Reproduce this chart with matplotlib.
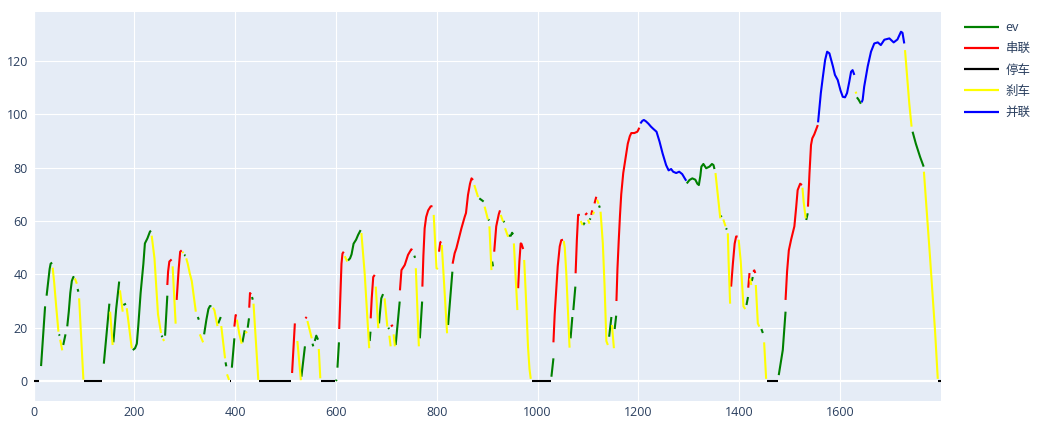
import numpy as np
import matplotlib
matplotlib.use("Agg")
import matplotlib.pyplot as plt

plt.rcParams['font.family'] = ['Open Sans', 'Noto Sans CJK SC', 'DejaVu Sans']

# Drive-cycle speed (km/h) over time (s), split into runs by powertrain mode.
modes = ["ev", "串联", "停车", "刹车", "并联"]
mode_colors = ["green", "red", "black", "yellow", "blue"]

ev_time = [
    [15, 23], [26, 30, 32, 34, 37], [50.5, 52], [59, 63.5],
    [67, 70, 73, 76, 79, 81], [87.5, 89], [139.5, 150.5], [158.5, 164, 170],
    [178.3, 183.5], [197, 201.5, 205, 208, 212.5, 218, 221, 226, 231, 233],
    [254, 256], [261, 265.5], [299, 301.5], [326, 328],
    [338.5, 343, 347, 350, 353], [366.5, 371.5], [381, 382.5], [393.5, 398.5],
    [414.5, 419], [425, 427.5], [433.5, 435], [531.5, 538.5], [553.5, 555],
    [558, 561, 564.5], [600, 601.5], [603, 606],
    [624, 628, 631, 635, 640, 644, 649], [667, 668.5], [685.5, 690, 693.5],
    [704, 705.5], [718.5, 726.5], [755.5, 757], [766.5, 771], [822.5, 831],
    [884.5, 893], [902.5, 904], [910, 911.5], [932.5, 934],
    [942.5, 947, 949.5, 951.5], [1027.5, 1031.5], [1065.5, 1069], [1071, 1075],
    [1090.5, 1093.5], [1103.5, 1105], [1122, 1123.5], [1142, 1146.5],
    [1153, 1156],
    [1296, 1301.5, 1307, 1313, 1317, 1320, 1323, 1325, 1329, 1334.5, 1341, 1346, 1349, 1351],
    [1363.5, 1365], [1374, 1375.5], [1414.5, 1417.5], [1425, 1427], [1444, 1447],
    [1478.5, 1483, 1486.5, 1489, 1492], [1533, 1536], [1633.5, 1637, 1641.5],
    [1744, 1750.5, 1759, 1766],
]
ev_speed = [
    [5.6, 28], [32, 38.5, 42, 44, 44.4], [17.5, 17], [13.5, 17.5],
    [20.5, 26, 33, 37.5, 39, 39], [34.5, 33.5], [6.5, 29], [14.5, 27, 37.3],
    [28.5, 29], [11.6, 12.3, 14, 21, 33, 44, 51.6, 53.5, 56, 56.4],
    [17, 16.5], [17, 32], [47.3, 47], [24, 23],
    [17.5, 23, 27, 28.1, 28.1], [21.6, 24], [7, 5.5], [5, 16],
    [14.5, 19], [20, 23.5], [31.5, 30.5], [1.6, 13], [14, 13],
    [15, 17, 15.5], [0, 0.5], [5, 14.5],
    [45.2, 46, 47.5, 51.5, 53, 54.8, 56.6], [15, 18.5], [21.6, 31, 32.6],
    [20, 19.5], [13.5, 29.8], [47, 46.2], [16, 29.8], [21, 41],
    [68.5, 67.3], [60.6, 60.2], [44.8, 43], [60, 59.5],
    [54.5, 54.5, 55.6, 55], [1.6, 8.5], [16, 24], [26.6, 35.4],
    [58.5, 59.4], [60.5, 61], [65.8, 65], [16.6, 24],
    [19.5, 24.5],
    [74.1, 75.4, 76, 75.5, 74, 73.5, 77, 80.4, 81.4, 79.8, 80.4, 81.4, 81, 79.5],
    [62, 61.5], [57.3, 56.8], [28.5, 31.5], [37.5, 39], [19.5, 18],
    [2.2, 7.5, 11.6, 18, 26], [60.4, 62.9], [106.4, 105.5, 104],
    [93.5, 89, 84, 80.4],
]

series_time = [
    [265.5, 267, 269.5, 274], [284, 288, 291, 294], [398.5, 401, 403],
    [428, 429.5, 431.5], [513, 518.5], [539.5, 542],
    [606.5, 609, 611, 613, 615.5], [669, 671, 674, 677], [709, 713],
    [727, 730, 736.5, 743, 749.5, 751.5],
    [771.5, 773.5, 776, 779, 783, 788, 791.5], [804.5, 807, 809],
    [831.5, 835.5, 839, 849, 855.5, 858, 862, 866, 869, 872],
    [914, 918, 923, 925.5], [961.5, 964, 966.5, 968, 971.5],
    [1031.5, 1034, 1037, 1040, 1044, 1047, 1050.5], [1075.5, 1078, 1080.5, 1084],
    [1094.5, 1098.5], [1106.5, 1108.5], [1113, 1116.5],
    [1156.5, 1158.5, 1161, 1163.5, 1166, 1170, 1174, 1179, 1183, 1186, 1192, 1198, 1202],
    [1384, 1387.5, 1391, 1394, 1397], [1418, 1420.5], [1428, 1430, 1432],
    [1492, 1495, 1498.5, 1503, 1509.5, 1513, 1516, 1521, 1524.5],
    [1536.5, 1539.5, 1542.5, 1545, 1549, 1556],
]
series_speed = [
    [36, 41, 44.8, 45.6], [30.4, 42, 48.5, 49], [20.4, 24.7, 24.7],
    [27.5, 33, 32.5], [3, 21.6], [23.5, 24],
    [19.5, 33, 44, 47.8, 48.5], [23.5, 31, 39, 39.8], [20.5, 21],
    [34, 41.6, 43.5, 47.3, 49.4, 49.1],
    [35.4, 47, 57.3, 61.5, 64, 65.5, 65.6], [48.5, 52, 52.3],
    [44, 47.9, 49.8, 57.3, 61.6, 63, 69.8, 74, 76, 75.4],
    [48.5, 58, 62.5, 64], [34.8, 45, 51.6, 51.5, 49.5],
    [14.5, 25, 34, 43, 50.5, 52.8, 53], [40.4, 53, 62.3, 62.3],
    [62.3, 63], [62.3, 64], [66.6, 69.1],
    [30, 42, 52.5, 62, 70, 78, 83, 89, 91.8, 93, 93, 93.5, 95],
    [35.4, 44, 51.5, 54.2, 54.2], [35, 40.5], [41, 41.5, 40.5],
    [30.4, 41, 49, 53, 58, 65, 71.6, 74, 73.5],
    [65.4, 78, 88.5, 91, 92.5, 96],
]

idle_time = [[0, 11], [101, 136], [389, 391], [447, 511], [570, 598],
             [988, 1026], [1455, 1477], [1795, 1800]]
idle_speed = [[0, 0], [0, 0], [0, 0], [0, 0], [0, 0],
              [0, 0], [0, 0], [0, 0]]

brake_time = [
    [38, 41, 45, 49.5], [53, 57], [82, 86], [90.5, 99], [152, 157],
    [171.5, 177], [185, 195], [234.5, 240, 247, 253], [257, 259], [276, 282],
    [295.5, 297], [303, 306, 310, 314, 322], [330, 336.5], [356, 359, 365],
    [372.5, 380], [384, 388], [403.5, 408, 413], [420, 424], [436.5, 446],
    [523.5, 530.5], [543.5, 548, 552], [566, 569], [617.5, 622.5],
    [650.5, 657, 666], [679, 684], [696.5, 702], [706, 708.5], [714.5, 717],
    [758.5, 764.5], [794, 799.5, 802.5], [810, 820.5], [874.5, 882],
    [895, 901.5], [904.5, 908.5], [927, 931.5], [935.5, 941.5], [953, 960],
    [973.5, 978, 981, 984, 986.5], [1052, 1054, 1057, 1063.5], [1085.5, 1089.5],
    [1100, 1103], [1110, 1112], [1118, 1121],
    [1125, 1129.5, 1133, 1136.5, 1139.5], [1147.5, 1151.5],
    [1353, 1358, 1362.5], [1368.5, 1373], [1377.5, 1379, 1382],
    [1399, 1403, 1408.5, 1412], [1421.5, 1424], [1433, 1437, 1440],
    [1449.5, 1453.5], [1525.5, 1528, 1532], [1631, 1632.5],
    [1729, 1737.5, 1742], [1766.5, 1779, 1788.5, 1794],
]
brake_speed = [
    [42.5, 37, 28, 18.5], [15.5, 11.5], [38.5, 36.5], [31, 0.5], [26, 13.5],
    [34, 26], [27.3, 12.2], [54.5, 46, 25, 18], [15.8, 15], [43, 21.5],
    [48.5, 48], [46, 44, 40.4, 37.5, 26], [17.5, 14.5], [27.5, 26.5, 20.6],
    [20.6, 8.5], [2.5, 0.4], [23, 18, 14], [18, 18.5], [29, 0.4],
    [15, 0.3], [22.5, 19, 16], [12, 1], [46.8, 44.8],
    [55.5, 40.4, 12.3], [35.4, 19.8], [31, 20.4], [17, 13], [17.5, 13],
    [42.3, 13], [62.3, 42.3, 42], [51, 17.9], [73.5, 69],
    [65.4, 60.6], [58, 41.6], [62.3, 59.8], [57.3, 54.1], [51.6, 26.6],
    [45.4, 27, 13, 4.5, 0.8], [52.5, 50, 40.4, 12.5], [60, 58.5],
    [60.5, 59], [62.5, 63.5], [68, 66.5],
    [63.5, 51.6, 35.4, 15, 13.5], [21, 12.3],
    [78, 69, 61], [60.6, 58], [55.4, 45, 29],
    [53, 45, 28, 27], [38.5, 36], [36, 21.6, 20.4],
    [14.5, 0.8], [72.5, 67, 61], [108.5, 107.8],
    [124.1, 104, 95.4], [78.5, 45.4, 19, 0.8],
]

parallel_time = [
    [1204, 1208, 1211, 1215, 1220, 1225, 1230, 1236, 1242, 1248, 1255, 1260,
     1265, 1269, 1275, 1281, 1287, 1292, 1295],
    [1556.5, 1562, 1566, 1570.5, 1574.5, 1579, 1586, 1590, 1595.5, 1601,
     1605.5, 1610, 1614, 1618.5, 1622, 1625, 1628.5],
    [1643, 1645, 1648, 1655, 1661.5, 1668, 1675, 1681, 1688, 1698, 1706.5,
     1714, 1721, 1724, 1727.5],
]
parallel_speed = [
    [96.6, 97.6, 97.9, 97.4, 96.5, 95.4, 94.5, 93.5, 89.8, 85.4, 81, 79,
     79.5, 78.5, 78, 78.5, 77.6, 76, 75.1],
    [97, 108, 114, 120.4, 123.5, 122.9, 118, 114.8, 112.9, 109,
     106.6, 106.4, 108, 112.3, 116, 116.6, 114.8],
    [104.5, 105.5, 110.4, 118, 123.5, 126.6, 127, 126, 128, 128.5, 127,
     128.1, 131, 130.6, 126.6],
]

mode_times = [ev_time, series_time, idle_time, brake_time, parallel_time]
mode_speeds = [ev_speed, series_speed, idle_speed, brake_speed, parallel_speed]


def join_runs(runs):
    """Concatenate runs with NaN breaks so each run is drawn on its own."""
    out = []
    for r in runs:
        out.extend(r)
        out.append(np.nan)
    return np.array(out, dtype=float)


W, H = 1037, 422
fig = plt.figure(figsize=(W / 100, H / 100), dpi=100)
ax = fig.add_axes([33.5 / W, (H - 400.7) / H, 907.3 / W, 388.7 / H])
ax.set_facecolor('#E5ECF6')

for label, color, tt, vv in zip(modes, mode_colors, mode_times, mode_speeds):
    ax.plot(join_runs(tt), join_runs(vv), color=color, lw=1.5, label=label,
            solid_joinstyle='round', solid_capstyle='butt', zorder=3)

ax.set_xlim(0, 1800)
ax.set_ylim(-7.39, 138.4)
ax.set_xticks(np.arange(0, 1601, 200))
ax.set_yticks(np.arange(0, 121, 20))
ax.grid(True, color='white', lw=0.8, zorder=0)
ax.set_axisbelow(True)
ax.axhline(0, color='white', lw=1.6, zorder=1)
ax.axvline(0, color='white', lw=1.6, zorder=1)
for s in ax.spines.values():
    s.set_visible(False)
ax.tick_params(length=0, labelsize=9, labelcolor='#2a3f5f', pad=4)

leg = ax.legend(loc='upper left', bbox_to_anchor=(964 / W, (H - 21) / H),
                bbox_transform=fig.transFigure, frameon=False, fontsize=9,
                handlelength=2.8, handletextpad=0.5, labelspacing=0.66,
                borderaxespad=0, borderpad=0)
for t in leg.get_texts():
    t.set_color('#2a3f5f')
for ln in leg.get_lines():
    ln.set_linewidth(1.6)

fig.savefig('out.png', dpi=100)
